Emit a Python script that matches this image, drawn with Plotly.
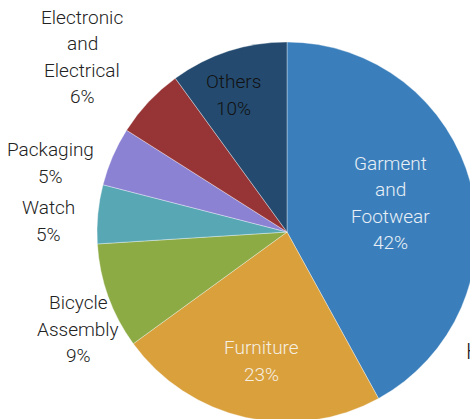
import plotly.graph_objects as go

# Share of output by sector (%)
sectors = ["Garment and Footwear", "Furniture", "Bicycle Assembly", "Watch",
           "Packaging", "Electronic and Electrical", "Others"]
shares = [42, 23, 9, 5, 5, 6, 10]
colors = ["#3a7fbb", "#d9a03c", "#8cab45", "#58a7b5", "#8b82d4", "#973536", "#244b6f"]

# Label block centres (pixels from the top-left) and label text colours
label_pos = [(390, 203), (261, 361), (78, 329), (48, 221), (50, 163), (82, 57), (233, 95)]
label_colors = ["#e9eff6", "#f6efe2", "#222222", "#222222", "#222222", "#222222", "#111111"]

W, H = 480, 430            # canvas; the visible window crops the right/bottom edge
CX, CY, R = 287, 232, 190  # pie centre and radius in pixels
LINE_H = 26.5              # label line spacing in pixels

fig = go.Figure(go.Pie(
    labels=sectors,
    values=shares,
    sort=False,
    direction="clockwise",
    rotation=0,
    marker=dict(colors=colors, line=dict(color="rgba(255,255,255,0.6)", width=0.6)),
    textinfo="none",
    hoverinfo="label+percent",
    domain=dict(x=[(CX - R) / W, (CX + R) / W], y=[(H - CY - R) / H, (H - CY + R) / H]),
    showlegend=False,
))

FONT = "Roboto"
for name, val, (px, py), col in zip(sectors, shares, label_pos, label_colors):
    lines = name.split(" ") + [f"{val}%"]
    top = py - LINE_H * (len(lines) - 1) / 2
    for i, line in enumerate(lines):
        fig.add_annotation(
            x=px / W, y=1 - (top + i * LINE_H) / H, xref="paper", yref="paper",
            text=line, showarrow=False, xanchor="center", yanchor="middle",
            font=dict(family=FONT, size=19, weight=300, color=col),
        )

# neighbouring page text peeking in at the right edge
fig.add_annotation(x=464 / W, y=1 - 351 / H, xref="paper", yref="paper", text="H",
                   showarrow=False, xanchor="left", yanchor="middle",
                   font=dict(family=FONT, size=22, weight=300, color="#222222"))

fig.update_layout(
    width=W, height=H, autosize=False,
    margin=dict(l=0, r=0, t=0, b=0),
    paper_bgcolor="white", plot_bgcolor="white",
)

fig.write_html(
    "out.html",
    post_script="document.body.style.margin='0';document.body.style.overflow='hidden';"
                "document.documentElement.style.overflow='hidden';",
)
